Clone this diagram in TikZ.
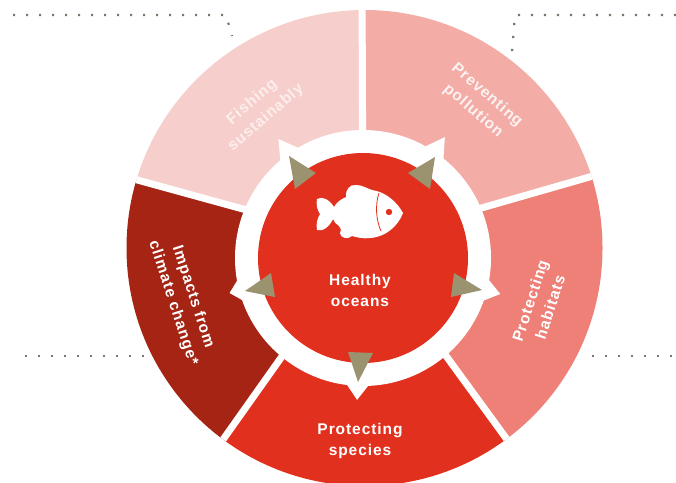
\documentclass[tikz,border=0pt]{standalone}
\usepackage{fontspec}
\setmainfont{Liberation Sans}
\usepackage{tikz}
\usetikzlibrary{calc,positioning}
\definecolor{palepink}{HTML}{F6CFCC}
\definecolor{midpink}{HTML}{F3ACA6}
\definecolor{deeppink}{HTML}{EE8078}
\definecolor{oceanred}{HTML}{E2301E}
\definecolor{darkred}{HTML}{A52414}
\definecolor{khaki}{HTML}{9B9270}
\definecolor{dotgrey}{HTML}{77776A}

\begin{document}
\begin{tikzpicture}[x=1pt,y=-1pt]

\tikzset{wheeltext/.style={font=\fontsize{15.5}{21}\selectfont\bfseries\addfontfeature{LetterSpace=6},text=white,align=center,inner sep=0pt},
dots/.style={draw=dotgrey,line width=2.2pt,dash pattern=on 2.2pt off 10.8pt},
sepline/.style={draw=white,line width=7pt}}

\useasboundingbox (0,0) rectangle (676,482);

% Wheel
\coordinate (hub) at (363,242);
\coordinate (wheel) at (364.5,248);
\coordinate (ring) at (363,258);
\coordinate (sepT) at (362,-20);
\coordinate (sepR) at (680,151);
\coordinate (sepLR) at (538,482);
\coordinate (sepLL) at (193,482);
\coordinate (sepL) at (50,156);

\begin{scope}
\clip (wheel) circle (238);
\fill[palepink] (hub) -- (sepL) -- (50,-20) -- (sepT) -- cycle;
\fill[midpink] (hub) -- (sepT) -- (680,-20) -- (sepR) -- cycle;
\fill[deeppink] (hub) -- (sepR) -- (680,520) -- (sepLR) -- cycle;
\fill[oceanred] (hub) -- (sepLR) -- (540,520) -- (190,520) -- (sepLL) -- cycle;
\fill[darkred] (hub) -- (sepLL) -- (50,520) -- (sepL) -- cycle;
\foreach \p in {sepT,sepR,sepLR,sepLL,sepL} \draw[sepline] (hub) -- (\p);
\end{scope}

% Ring with spikes
\fill[white] (ring) circle (128);
\foreach \a/\r in {-125.4/146, -55.9/146, 14.7/142, 165.3/138, 92.4/142}
  \fill[white] ($(ring)+(\a-5.5:126)$) -- ($(ring)+(\a:\r)$) -- ($(ring)+(\a+5.5:126)$) -- cycle;
\fill[oceanred] (ring) circle (105);

% Pointers
\fill[khaki] (289,156) -- (316,173) -- (295,189) -- cycle;
\fill[khaki] (435,157) -- (408,173) -- (430,189) -- cycle;
\fill[khaki] (454,273) -- (482,290) -- (451,297) -- cycle;
\fill[khaki] (271,273) -- (245,291) -- (275,297) -- cycle;
\fill[khaki] (348,352) -- (373,353) -- (358,382) -- cycle;

% Fish
\fill[white] (317,199) .. controls (322,196) and (329,199) .. (334,207)
  .. controls (336,203) and (341,199) .. (346,197)
  .. controls (345,190) and (350,184) .. (356,185)
  .. controls (362,185) and (366,188) .. (372,190)
  .. controls (386,192) and (397,202) .. (403,213)
  .. controls (398,226) and (386,237) .. (370,238)
  .. controls (362,239) and (356,237) .. (352,236)
  .. controls (348,240) and (340,238) .. (340,233)
  .. controls (342,231) and (341,228) .. (339,226)
  .. controls (336,224) and (334,222) .. (333,219)
  .. controls (330,226) and (323,232) .. (317,230)
  .. controls (316,224) and (317,219) .. (320,214)
  .. controls (317,210) and (316,204) .. (317,199) -- cycle;
\draw[oceanred,line width=0.8pt] (379,193) .. controls (375,205) and (376,220) .. (381,231);
\fill[oceanred] (389,212) circle (3.2);

% Labels
\node[wheeltext] (healthy) at (360,290) {Healthy\\oceans};
\node[wheeltext,text=palepink!35!white,rotate=41] (fishing) at (259,110) {Fishing\\sustainably};
\node[wheeltext,text=midpink!15!white,rotate=-41] (pollution) at (480,103) {Preventing\\pollution};
\node[wheeltext,rotate=72] (habitats) at (540,304) {Protecting\\habitats};
\node[wheeltext,rotate=-72] (climate) at (183,300) {Impacts from\\climate change*};
\node[wheeltext] (species) at (360,441) {Protecting\\species};

% Dotted leaders
\draw[dots] (13,15) -- (226,15) -- (232,36);
\draw[dots] (676,15) -- (515,15) -- (512,52);
\draw[dots] (25,356) -- (145,356);
\draw[dots] (592,356) -- (676,356);

\end{tikzpicture}
\end{document}
